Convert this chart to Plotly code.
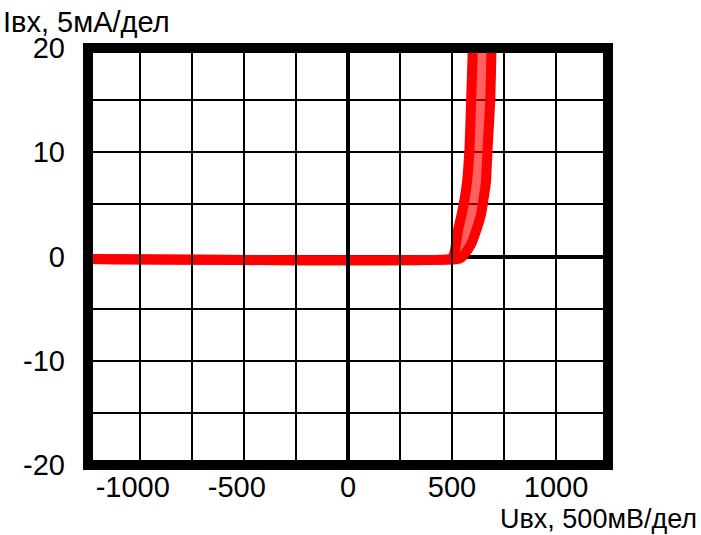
import plotly.graph_objects as go

# Axis ticks
x_ticks = [-1000, -500, 0, 500, 1000]
x_tick_text = ["-1000\u2002", "-500\u2002", "0", "500", "1000"]
y_ticks = [-20, -10, 0, 10, 20]
y_tick_text = ["-20", "-10", "0", "10", "20"]

# Input characteristic, two boundary curves (U in mV, I in mA)
low_u = [-1250, 490, 503, 510, 515, 520, 530, 546, 560, 572, 584, 592, 600, 601]
low_i = [-0.25, -0.25, -0.1, 0.25, 0.7, 1.3, 2.6, 4.0, 5.45, 7.1, 10.3, 15.0, 20.0, 22.0]

high_u = [-1250, 525, 545, 565, 591, 618, 639, 651, 663, 671, 684, 690, 692]
high_i = [-0.25, -0.25, -0.1, 0.36, 1.15, 2.6, 4.0, 5.45, 7.1, 10.3, 15.0, 20.0, 22.0]

X_RANGE = [-1250, 1250]
Y_RANGE = [-20, 20]
X_MINOR = 250
Y_MINOR = 5

FONT = "Liberation Sans, Arial, sans-serif"
RED = "#ff0000"

fig = go.Figure()

# spread band between the two curves
fig.add_trace(go.Scatter(
    x=high_u + low_u[::-1],
    y=high_i + low_i[::-1],
    mode="lines",
    fill="toself",
    fillcolor="rgba(255,0,0,0.62)",
    line=dict(width=0, color="rgba(0,0,0,0)"),
    hoverinfo="skip",
    showlegend=False,
))
fig.add_trace(go.Scatter(
    x=high_u, y=high_i, mode="lines",
    line=dict(color=RED, width=10, shape="spline", smoothing=0.5),
    showlegend=False,
))
fig.add_trace(go.Scatter(
    x=low_u, y=low_i, mode="lines",
    line=dict(color=RED, width=10, shape="spline", smoothing=0.5),
    showlegend=False,
))

# vertical grid lines, drawn over the traces
shapes = []
xv = X_RANGE[0] + X_MINOR
while xv < X_RANGE[1]:
    shapes.append(dict(
        type="line", xref="x", yref="paper", x0=xv, x1=xv, y0=0, y1=1,
        line=dict(color="black", width=4 if xv == 0 else 2),
        layer="above",
    ))
    xv += X_MINOR

# heavy frame
shapes.append(dict(
    type="rect", xref="paper", yref="paper", x0=0, x1=1, y0=0, y1=1,
    line=dict(color="black", width=10), layer="above",
))

fig.update_layout(
    width=701, height=535,
    margin=dict(l=88, r=93, t=48, b=70),
    paper_bgcolor="white", plot_bgcolor="white",
    font=dict(family=FONT, size=29, color="black"),
    shapes=shapes,
    xaxis=dict(
        range=X_RANGE, tickmode="array", tickvals=x_ticks, ticktext=x_tick_text,
        showgrid=False, zeroline=False, showline=False, ticks="",
        ticklabelstandoff=2,
        tickfont=dict(family=FONT, size=29, color="black"),
    ),
    yaxis=dict(
        range=Y_RANGE, tickmode="array", tickvals=y_ticks, ticktext=y_tick_text,
        showgrid=True, gridcolor="black", gridwidth=2,
        minor=dict(dtick=Y_MINOR, showgrid=True, gridcolor="black", gridwidth=2),
        zeroline=True, zerolinecolor="black", zerolinewidth=4,
        showline=False, ticks="",
        ticklabelstandoff=22,
        tickfont=dict(family=FONT, size=29, color="black"),
    ),
    annotations=[
        dict(text="Iвх, 5мА/дел", xref="paper", yref="paper", x=-86 / 520, y=1,
             xanchor="left", yanchor="bottom", yshift=9, showarrow=False,
             borderpad=0,
             font=dict(family=FONT, size=29, color="black")),
        dict(text="Uвх, 500мВ/дел", xref="paper", yref="paper", x=1 + 90 / 520, y=0,
             xanchor="right", yanchor="bottom", yshift=-70, showarrow=False,
             borderpad=0,
             font=dict(family=FONT, size=27, color="black")),
    ],
)

fig.write_html("out.html")
